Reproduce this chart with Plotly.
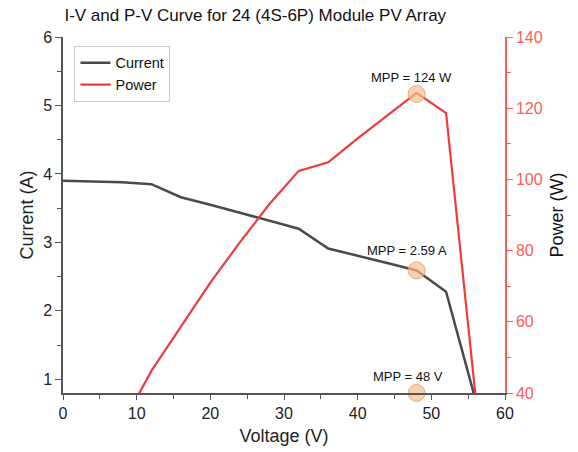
import plotly.graph_objects as go

# ---- data ----
voltage = [0, 4, 8, 12, 16, 20, 24, 28, 32, 36, 40, 44, 48, 52, 56]
current = [3.90, 3.89, 3.88, 3.85, 3.66, 3.55, 3.43, 3.32, 3.20, 2.91, 2.81, 2.70, 2.59, 2.28, 0.70]
power = [0, 15.6, 31.0, 46.2, 58.6, 71.0, 82.3, 93.0, 102.4, 104.8, 111.5, 118.0, 124.3, 118.6, 39.2]

mpp_voltage = 48
mpp_current = 2.59
mpp_power = 124

current_range = [0.8, 6]
power_range = [40, 140]
voltage_range = [0, 60]

title_text = "I-V and P-V Curve for 24 (4S-6P) Module PV Array"
label_power = "MPP = 124 W"
label_current = "MPP = 2.59 A"
label_voltage = "MPP = 48 V"

FONT = "Liberation Sans, Arial, sans-serif"
GREY = "#4a4a4a"
RED = "#f23a3a"
RED_AX = "#ff5c5c"
AX = "#555555"
MARK_FILL = "rgba(245,190,140,0.7)"
MARK_LINE = "rgba(220,160,110,0.8)"

fig = go.Figure()

fig.add_trace(go.Scatter(
    x=voltage, y=current, mode="lines", name="Current",
    line=dict(color=GREY, width=2.5), yaxis="y", xaxis="x"))
fig.add_trace(go.Scatter(
    x=voltage, y=power, mode="lines", name="Power",
    line=dict(color=RED, width=2.2), yaxis="y2", xaxis="x"))

# MPP markers
fig.add_trace(go.Scatter(
    x=[mpp_voltage, mpp_voltage], y=[mpp_current, current_range[0]],
    mode="markers", showlegend=False, cliponaxis=False,
    marker=dict(size=17, color=MARK_FILL, line=dict(color=MARK_LINE, width=1)),
    yaxis="y", xaxis="x", hoverinfo="skip"))
fig.add_trace(go.Scatter(
    x=[mpp_voltage], y=[mpp_power],
    mode="markers", showlegend=False, cliponaxis=False,
    marker=dict(size=17, color=MARK_FILL, line=dict(color=MARK_LINE, width=1)),
    yaxis="y2", xaxis="x", hoverinfo="skip"))

ann_font = dict(family=FONT, size=13, color="#111111")
annotations = [
    dict(x=mpp_voltage - 0.7, y=mpp_power, xref="x", yref="y2", text=label_power,
         showarrow=False, yshift=16, font=ann_font),
    dict(x=mpp_voltage - 1.3, y=mpp_current, xref="x", yref="y", text=label_current,
         showarrow=False, yshift=20, font=ann_font),
    dict(x=mpp_voltage - 1.2, y=current_range[0], xref="x", yref="y", text=label_voltage,
         showarrow=False, yshift=17, font=ann_font),
]

fig.update_layout(
    width=578, height=452,
    margin=dict(l=63, r=73, t=37, b=59, autoexpand=False),
    paper_bgcolor="white", plot_bgcolor="white",
    font=dict(family=FONT, size=16, color="#222222"),
    title=dict(text=title_text, x=0.435, xref="paper", xanchor="center",
               y=1 - 15 / 452, yref="container", yanchor="middle",
               font=dict(family=FONT, size=17, color="#111111")),
    annotations=annotations,
    legend=dict(x=0.026, y=0.975, xanchor="left", yanchor="top",
                bordercolor="#c8c8c8", borderwidth=1, bgcolor="white",
                font=dict(family=FONT, size=14.5, color="#111111"),
                tracegroupgap=0, itemwidth=30),
    xaxis=dict(range=voltage_range, dtick=10, showgrid=False, zeroline=False,
               automargin=False,
               showline=True, linecolor=AX, linewidth=1.5,
               ticks="outside", ticklen=5, tickwidth=1.2, tickcolor=AX,
               minor=dict(dtick=5, ticks="outside", ticklen=4, tickcolor=AX),
               title=dict(text="Voltage (V)", font=dict(size=18), standoff=8),
               tickfont=dict(size=16, color="#222222")),
    xaxis2=dict(range=voltage_range, overlaying="x", side="top", anchor="y",
                automargin=False,
                dtick=10, showgrid=False, zeroline=False, showticklabels=False,
                showline=True, linecolor=AX, linewidth=1.5,
                ticks="inside", ticklen=5, tickwidth=1.2, tickcolor=AX,
                minor=dict(dtick=5, ticks="inside", ticklen=4, tickcolor=AX)),
    yaxis=dict(range=current_range, tickvals=[1, 2, 3, 4, 5, 6], showgrid=False,
               automargin=False,
               zeroline=False, showline=True, linecolor=AX, linewidth=1.5,
               ticks="outside", ticklen=6, tickwidth=1.2, tickcolor=AX,
               minor=dict(dtick=0.5, ticks="outside", ticklen=4, tickcolor=AX),
               title=dict(text="Current (A)", font=dict(size=18), standoff=5),
               tickfont=dict(size=16, color="#222222")),
    yaxis2=dict(range=power_range, dtick=20, overlaying="y", side="right", anchor="x",
                automargin=False,
                showgrid=False, zeroline=False, showline=True, linecolor=RED_AX,
                linewidth=1.5, ticks="outside", ticklen=6, tickwidth=1.2,
                tickcolor=RED_AX,
                minor=dict(dtick=10, ticks="outside", ticklen=4, tickcolor=RED_AX),
                title=dict(text="Power (W)", font=dict(size=18, color="#111111"), standoff=9),
                tickfont=dict(size=16, color=RED_AX)),
)

fig.write_html("out.html", config={"displayModeBar": False},
               post_script="document.body.style.margin='0px';")
